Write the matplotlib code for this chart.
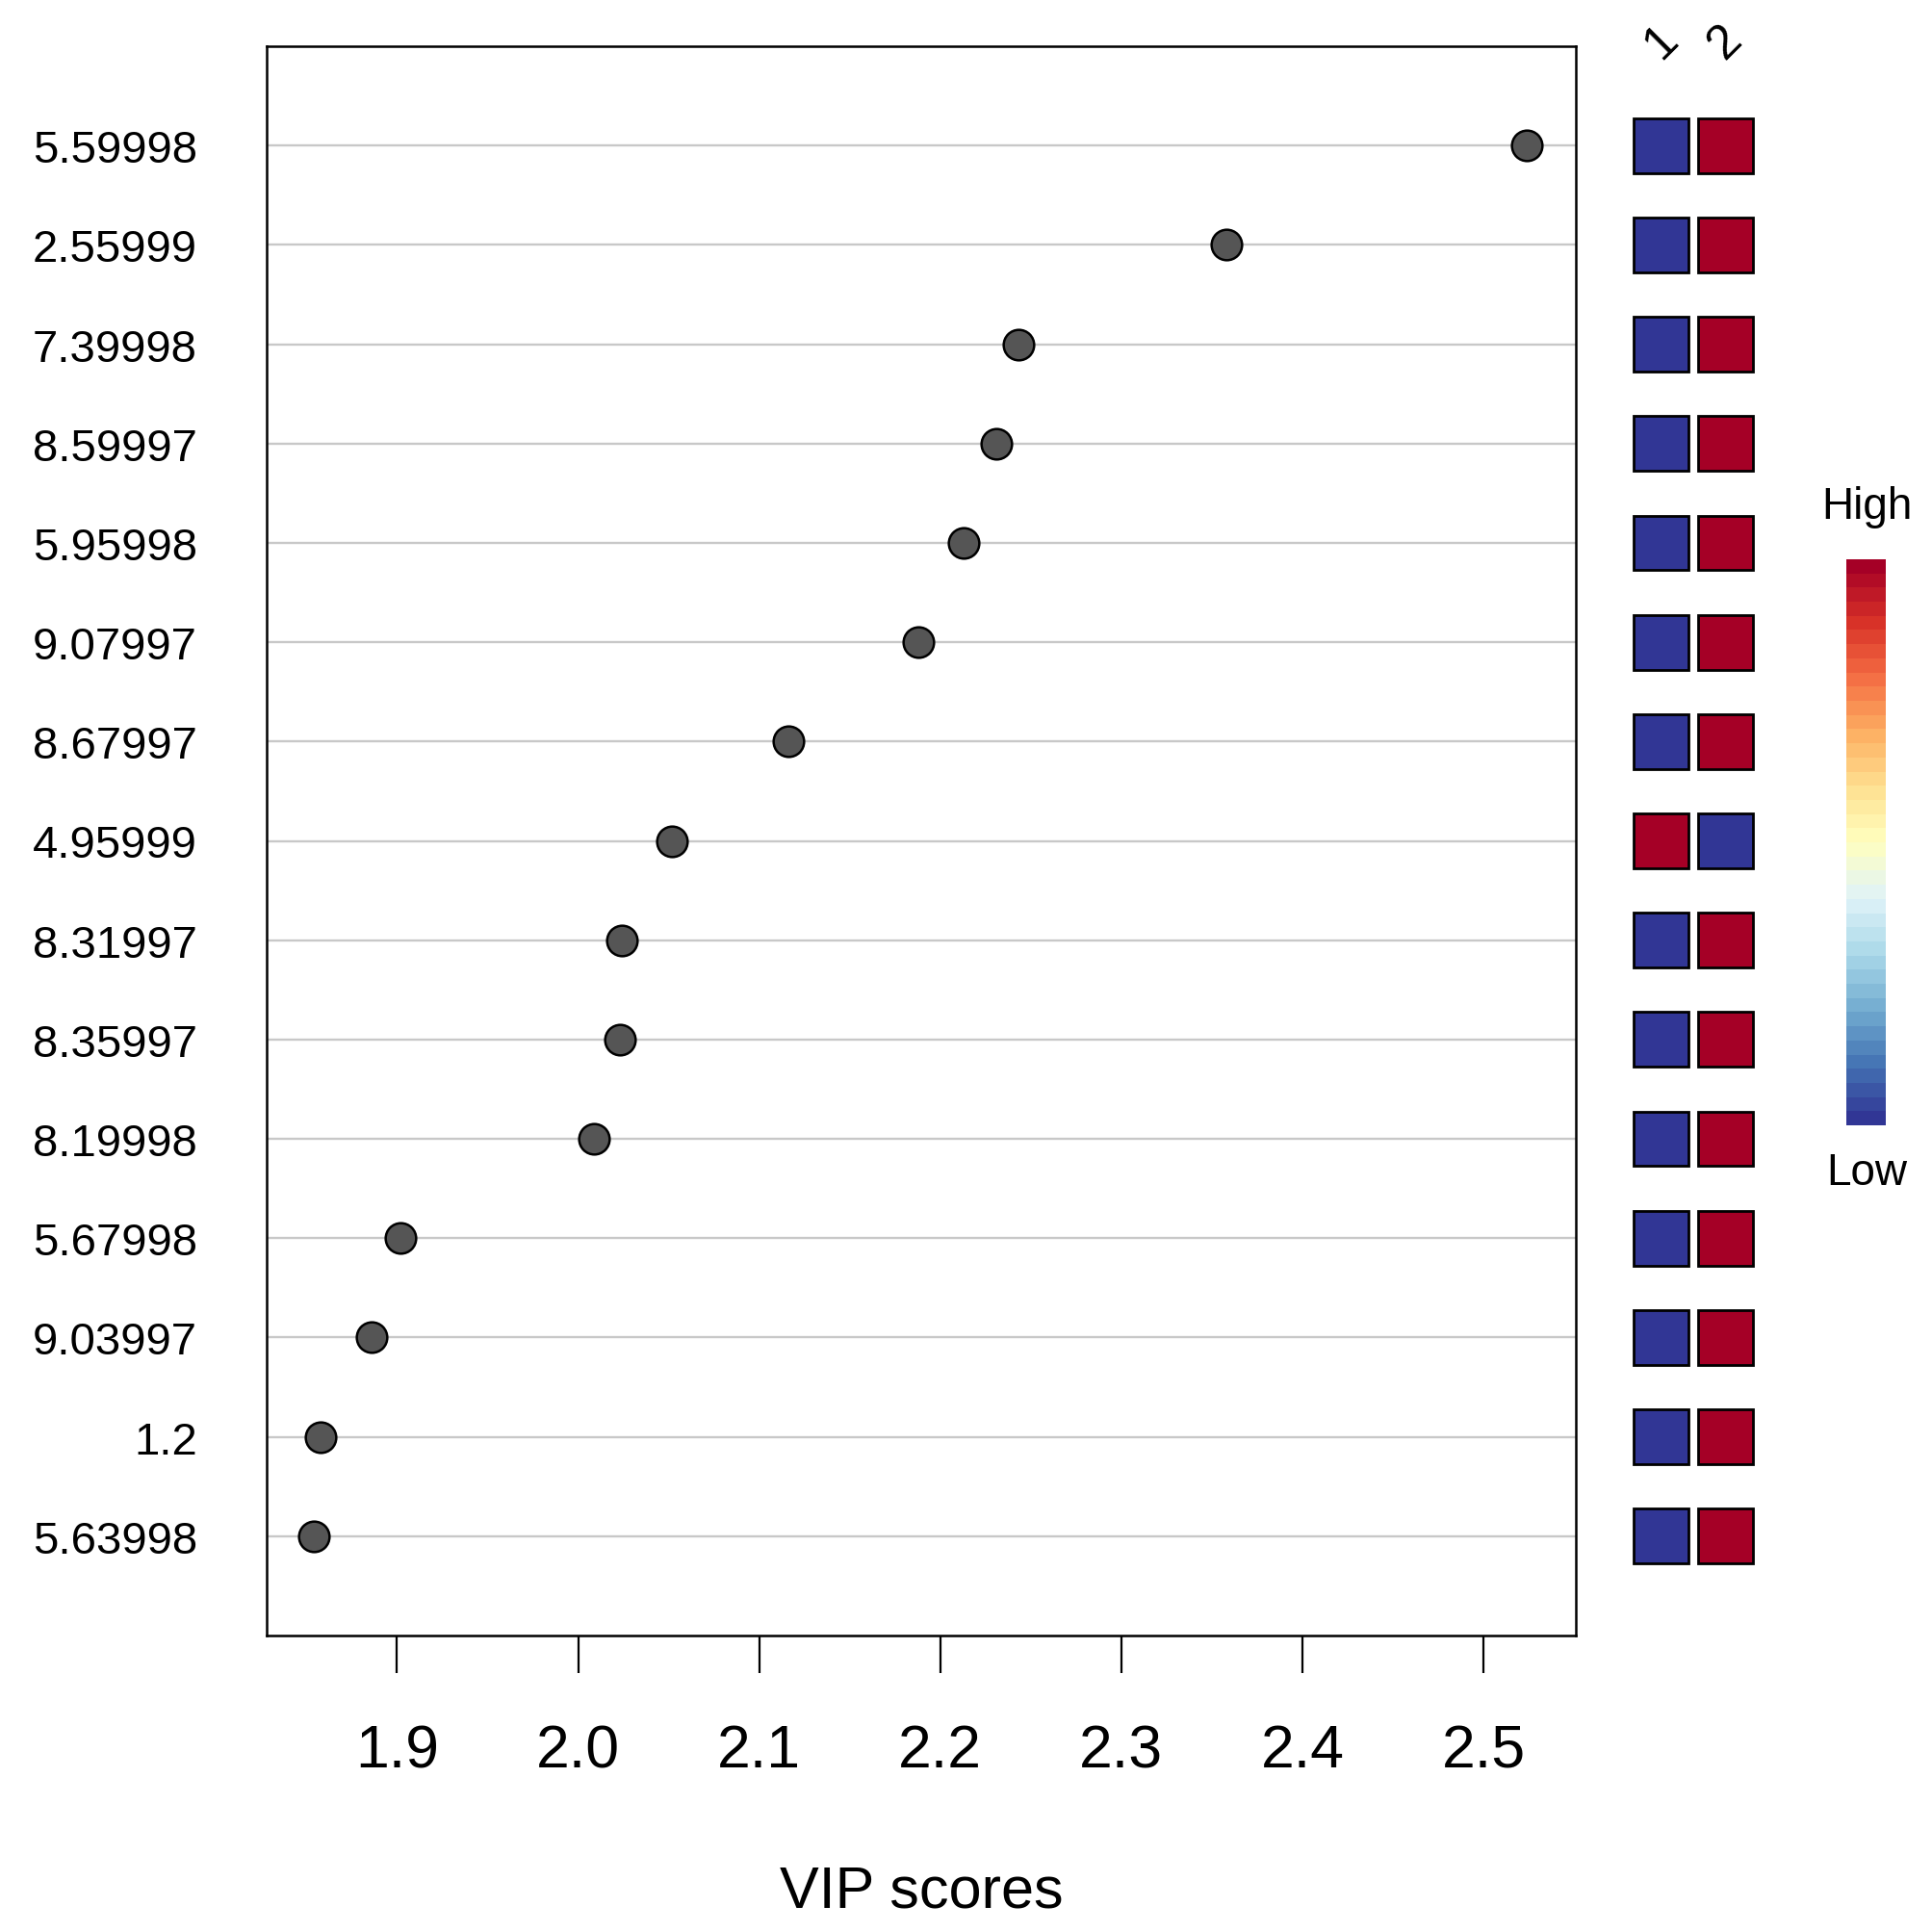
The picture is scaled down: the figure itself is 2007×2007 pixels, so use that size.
import matplotlib
matplotlib.use("Agg")
import matplotlib.pyplot as plt
import numpy as np
from matplotlib.patches import Rectangle
from matplotlib.colors import Normalize
from matplotlib.cm import ScalarMappable

# ---- data (top -> bottom) ----
features = ["5.59998", "2.55999", "7.39998", "8.59997", "5.95998",
            "9.07997", "8.67997", "4.95999", "8.31997", "8.35997",
            "8.19998", "5.67998", "9.03997", "1.2", "5.63998"]
vip_scores = [2.524, 2.358, 2.243, 2.231, 2.213,
              2.188, 2.116, 2.052, 2.024, 2.023,
              2.009, 1.902, 1.886, 1.858, 1.854]
# relative level in each group (0 = low, 1 = high)
group_labels = ["1", "2"]
group1_level = [0, 0, 0, 0, 0, 0, 0, 1, 0, 0, 0, 0, 0, 0, 0]
group2_level = [1, 1, 1, 1, 1, 1, 1, 0, 1, 1, 1, 1, 1, 1, 1]
xticks = [1.9, 2.0, 2.1, 2.2, 2.3, 2.4, 2.5]

W = H = 2008
DPI = 100
plt.rcParams["font.family"] = ["Liberation Sans", "DejaVu Sans"]

fig = plt.figure(figsize=(W / DPI, H / DPI), dpi=DPI)


def box(x0, y0, x1, y1):
    # pixel box -> figure fraction
    return [x0 / W, 1 - y1 / H, (x1 - x0) / W, (y1 - y0) / H]


n = len(features)
ypos = np.arange(n, 0, -1)

# ---- main dot plot ----
ax = fig.add_axes(box(277, 49, 1637, 1700))
for y in ypos:
    ax.axhline(y, color="#c8c8c8", lw=1.7, zorder=1)
ax.scatter(vip_scores, ypos, s=520, facecolor="#555555", edgecolor="black",
           linewidth=1.8, zorder=3)
ax.set_xlim(1.828, 2.551)
ax.set_ylim(0, n + 1)
ax.set_yticks(ypos)
ax.set_yticklabels(features, fontsize=34)
ax.tick_params(axis="y", length=0, pad=52)
ax.set_xticks(xticks)
ax.set_xticklabels([f"{t:.1f}" for t in xticks], fontsize=45)
ax.tick_params(axis="x", length=28, width=1.6, pad=37)
for sp in ax.spines.values():
    sp.set_linewidth(1.8)

fig.text(957 / W, 1 - 1966 / H, "VIP scores", fontsize=44, ha="center", va="center")

# ---- group heatmap ----
cmap = plt.get_cmap("RdYlBu_r", 40)
norm = Normalize(0, 1)
hax = fig.add_axes(box(1692, 49, 1826, 1700))
hax.set_xlim(0, 2)
hax.set_ylim(0, n + 1)
hax.axis("off")
cw, ch = 0.84, 0.55
for j, levels in enumerate([group1_level, group2_level]):
    for y, v in zip(ypos, levels):
        hax.add_patch(Rectangle((j + 0.5 - cw / 2, y - ch / 2), cw, ch,
                                facecolor=cmap(norm(v)), edgecolor="black", lw=2.0))
    hax.text(j + 0.5, n + 1.05, group_labels[j], rotation=45, fontsize=36,
             ha="center", va="center")

# ---- colour key ----
cax = fig.add_axes(box(1918, 582, 1959, 1170))
cb = fig.colorbar(ScalarMappable(norm=norm, cmap=cmap), cax=cax)
cb.outline.set_visible(False)
cb.set_ticks([])
fig.text(1939 / W, 1 - 527 / H, "High", fontsize=33, ha="center", va="center")
fig.text(1939 / W, 1 - 1219 / H, "Low", fontsize=33, ha="center", va="center")

fig.savefig("out.png", dpi=DPI)
